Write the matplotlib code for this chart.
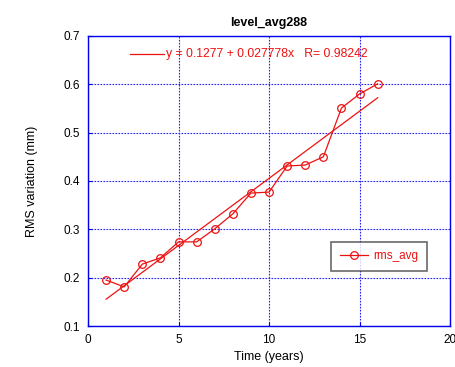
import numpy as np
import matplotlib.pyplot as plt

plt.rcParams['font.family'] = ['Liberation Sans', 'DejaVu Sans']

years = [1, 2, 3, 4, 5, 6, 7, 8, 9, 10, 11, 12, 13, 14, 15, 16]
rms_avg = [0.195, 0.181, 0.228, 0.241, 0.274, 0.274, 0.301, 0.332,
           0.375, 0.377, 0.431, 0.433, 0.450, 0.551, 0.580, 0.601]
fit_a = 0.1277
fit_b = 0.027778
fit_r = 0.98242

fig = plt.figure(figsize=(4.56, 3.67), dpi=100)
ax = fig.add_axes([0.193, 0.1117, 0.794, 0.7903])

x = np.array(years)
ax.plot(x, fit_a + fit_b * x, color='#ee1111', linewidth=0.9)
ax.plot(years, rms_avg, color='#ee1111', linewidth=0.9, marker='o',
        markersize=5.5, markerfacecolor='none', markeredgewidth=0.9,
        label='rms_avg')

ax.set_xlim(0, 20)
ax.set_ylim(0.1, 0.7)
ax.set_xticks([0, 5, 10, 15, 20])
ax.set_yticks([0.1, 0.2, 0.3, 0.4, 0.5, 0.6, 0.7])
ax.grid(True, color='#2222ee', linestyle=(0, (1.5, 1.2)), linewidth=0.8)
for s in ax.spines.values():
    s.set_color('#0000ee')
    s.set_linewidth(1.0)
ax.tick_params(direction='in', length=3, colors='#0000ee', labelcolor='black',
               labelsize=8.5, pad=6)

ax.set_title('level_avg288', fontsize=9, fontweight='bold', pad=7)
ax.set_xlabel('Time (years)', fontsize=9, labelpad=3)
ax.set_ylabel('RMS variation (mm)', fontsize=9, labelpad=18)

# fit equation annotation
ax.plot([2.3, 4.2], [0.663, 0.663], color='#ee1111', linewidth=0.9)
ax.text(4.3, 0.663, 'y = %.4f + %.6fx   R= %.5f' % (fit_a, fit_b, fit_r),
        color='#ee1111', fontsize=8.8, va='center')

leg = ax.legend(loc='center left', bbox_to_anchor=(0.655, 0.24),
                fontsize=8.5, frameon=True, fancybox=False, handlelength=2.4,
                borderpad=0.75, handletextpad=0.4, labelcolor='#ee1111')
leg.get_frame().set_edgecolor('#444444')
leg.get_frame().set_linewidth(1.2)

fig.savefig('out.png', dpi=100)
